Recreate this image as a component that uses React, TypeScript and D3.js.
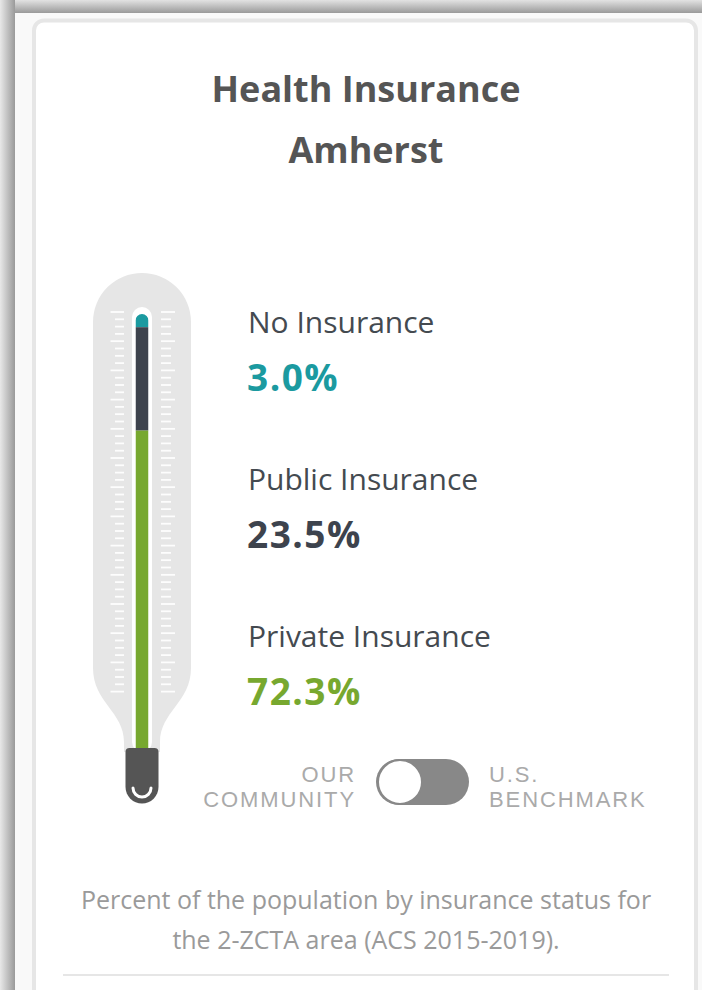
import React from "react";
import * as d3 from "d3";

const categories = ["No Insurance", "Public Insurance", "Private Insurance"];
const values = [3.0, 23.5, 72.3];
const valueLabels = ["3.0%", "23.5%", "72.3%"];
const colors = ["#1b9aa0", "#3d434d", "#77a82f"];
const titleLines = ["Health Insurance", "Amherst"];
const toggleLeft = ["OUR", "COMMUNITY"];
const toggleRight = ["U.S.", "BENCHMARK"];
const captionLines = [
  "Percent of the population by insurance status for",
  "the 2-ZCTA area (ACS 2015-2019).",
];

const W = 702;
const H = 990;
const FONT = "'Open Sans', Lato, sans-serif";
const TOGGLE_FONT = "'Liberation Sans', Arial, sans-serif";

export default function App() {
  const cx = 142;
  const y = d3.scaleLinear().domain([0, 100]).range([314, 754]);
  const stack = d3.cumsum(values);
  const starts = [0, ...stack.slice(0, -1)];

  const ticks = d3.range(0, 53).map((i) => ({ y: 312 + i * 7.3, major: i % 4 === 0 }));

  const outer = `M ${cx - 49},322 A 49 49 0 0 1 ${cx + 49},322 L ${cx + 49},668 C ${cx + 49},702 ${cx + 18},712 ${cx + 18},742 L ${cx + 18},752 L ${cx - 18},752 L ${cx - 18},742 C ${cx - 18},712 ${cx - 49},702 ${cx - 49},668 Z`;
  const bw = 16.5;
  const bulb = `M ${cx - bw},752 Q ${cx - bw},748 ${cx - bw + 4},748 L ${cx + bw - 4},748 Q ${cx + bw},748 ${cx + bw},752 L ${cx + bw},787 A ${bw} ${bw} 0 0 1 ${cx - bw},787 Z`;

  const labelY = [333, 490, 647];

  return (
    <svg
      width={W}
      height={H}
      style={{ position: "absolute", left: 0, top: 0, fontFamily: FONT }}
    >
      <defs>
        <linearGradient id="topShade" x1="0" y1="0" x2="0" y2="1">
          <stop offset="0" stopColor="#e2e2e2" />
          <stop offset="1" stopColor="#9a9a9a" />
        </linearGradient>
        <linearGradient id="leftShade" x1="0" y1="0" x2="1" y2="0">
          <stop offset="0" stopColor="#e8e8e8" />
          <stop offset="1" stopColor="#9a9a9a" />
        </linearGradient>
        <clipPath id="barClip">
          <rect x={cx - 6.5} y={y(0)} width={13} height={y(100) - y(0)} rx={6.5} />
        </clipPath>
      </defs>
      <rect x={0} y={0} width={W} height={H} fill="#f9f9f9" />
      <rect x={0} y={0} width={W} height={13} fill="url(#topShade)" />
      <rect x={0} y={0} width={15} height={H} fill="url(#leftShade)" />
      <rect x={15} y={13} width={W} height={H} fill="#f9f9f9" />
      <rect x={34} y={20.5} width={662} height={1000} rx={10} fill="#ffffff" stroke="#e6e6e6" strokeWidth={4} />

      <text x={366} y={102} textAnchor="middle" fontSize={36} fontWeight={700} fill="#555555">
        {titleLines.map((t, i) => (
          <tspan key={t} x={366} dy={i === 0 ? 0 : 61}>
            {t}
          </tspan>
        ))}
      </text>

      <path d={outer} fill="#e6e6e6" />
      {ticks.map((t, i) => (
        <g key={i} stroke="#ffffff" strokeWidth={1.8} opacity={0.95}>
          <line x1={t.major ? 110.5 : 115} x2={124} y1={t.y} y2={t.y} />
          <line x1={161} x2={t.major ? 175 : 171} y1={t.y} y2={t.y} />
        </g>
      ))}
      <rect x={cx - 10} y={307} width={20} height={445} rx={10} fill="#ffffff" />
      <g clipPath="url(#barClip)">
        {values.map((v, i) => (
          <rect key={i} x={cx - 6.5} y={y(starts[i])} width={13} height={y(stack[i]) - y(starts[i]) + (i === values.length - 1 ? 20 : 0)} fill={colors[i]} />
        ))}
      </g>
      <path d={bulb} fill="#555555" />
      <path d={`M ${cx - 9},788 A 9 9 0 0 0 ${cx + 9},788`} fill="none" stroke="#ffffff" strokeWidth={3} strokeLinecap="round" />

      {categories.map((c, i) => (
        <g key={c}>
          <text x={248} y={labelY[i]} fontSize={30} fill="#444a50">
            {c}
          </text>
          <text x={247} y={labelY[i] + 58} fontSize={37} fontWeight={700} letterSpacing={1.5} fill={colors[i]}>
            {valueLabels[i]}
          </text>
        </g>
      ))}

      {toggleLeft.map((t, i) => (
        <text key={t} x={356} y={782 + i * 25} textAnchor="end" fontFamily={TOGGLE_FONT} fontSize={22} letterSpacing={1.9} fill="#aaaaaa">
          {t}
        </text>
      ))}
      <rect x={376} y={759} width={93} height={46} rx={23} fill="#888888" />
      <circle cx={400} cy={782} r={22} fill="#ffffff" stroke="#888888" strokeWidth={2} />
      {toggleRight.map((t, i) => (
        <text key={t} x={489} y={782 + i * 25} fontFamily={TOGGLE_FONT} fontSize={22} letterSpacing={1.9} fill="#aaaaaa">
          {t}
        </text>
      ))}

      <text x={366} y={909} textAnchor="middle" fontSize={25} fill="#9a9a9a">
        {captionLines.map((t, i) => (
          <tspan key={t} x={366} dy={i === 0 ? 0 : 40}>
            {t}
          </tspan>
        ))}
      </text>
      <line x1={63} x2={669} y1={975} y2={975} stroke="#e6e6e6" strokeWidth={2} />
    </svg>
  );
}
